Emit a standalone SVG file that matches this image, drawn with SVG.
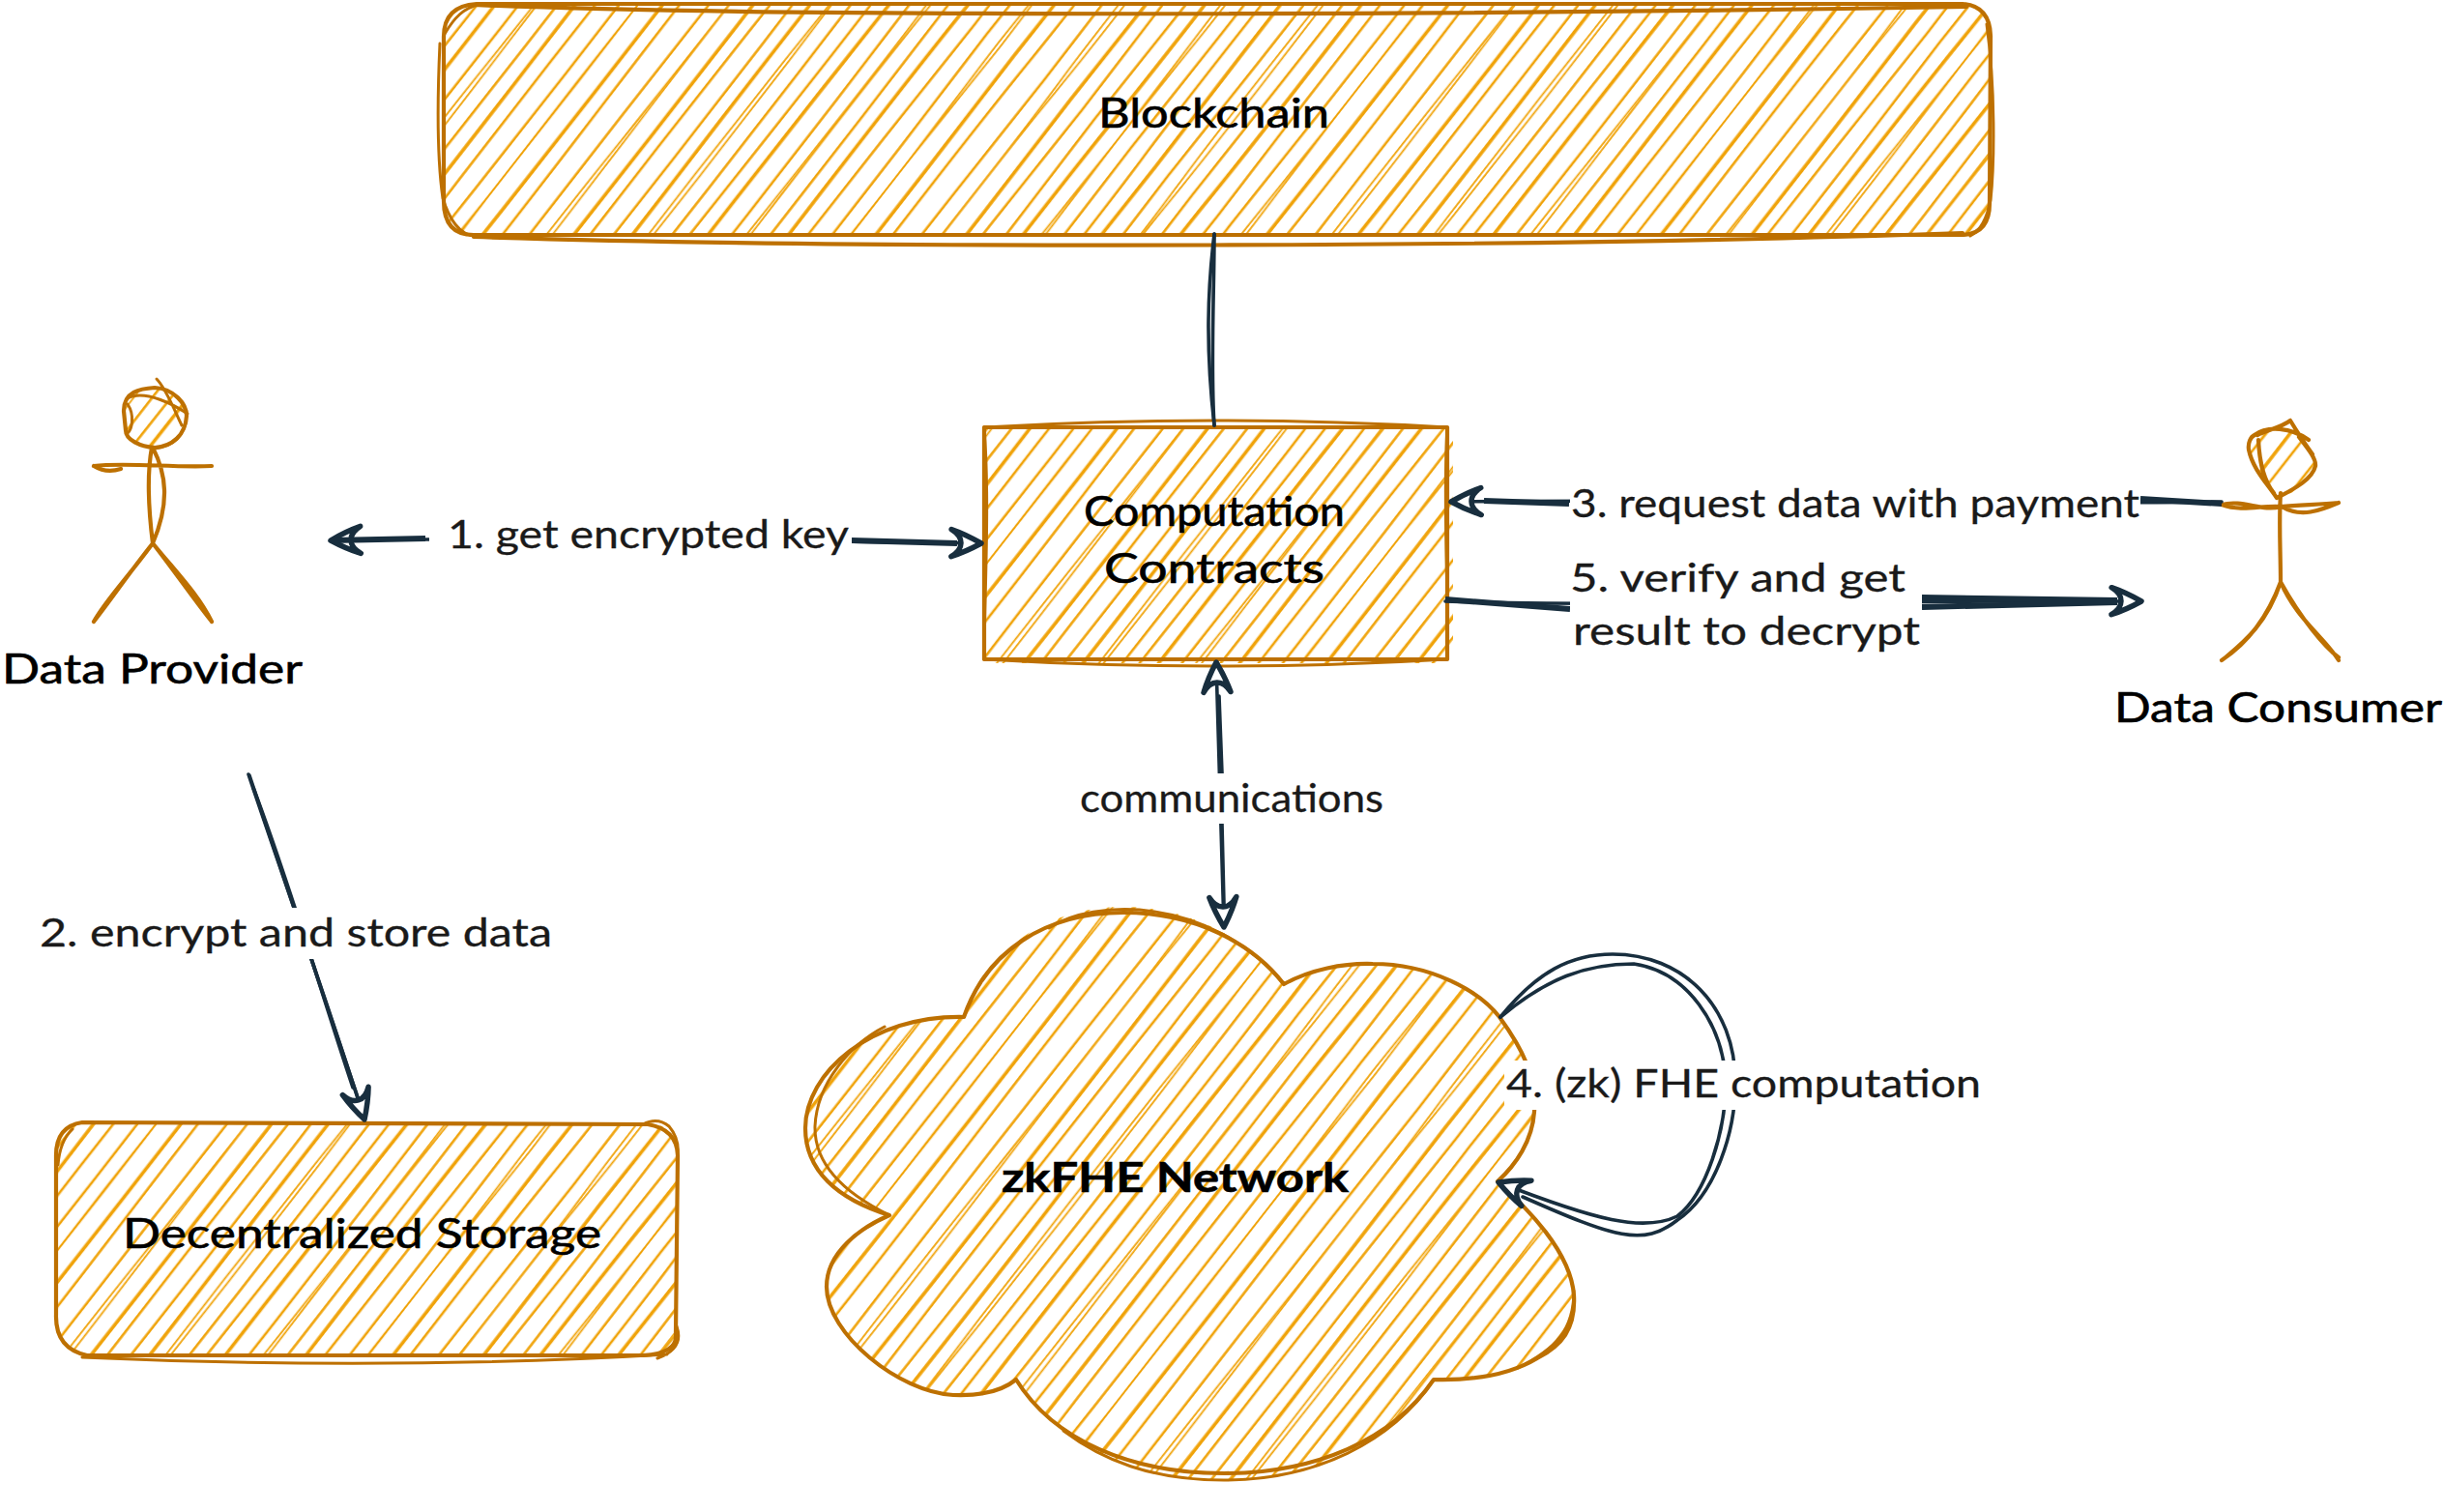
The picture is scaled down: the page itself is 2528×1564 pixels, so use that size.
<svg xmlns="http://www.w3.org/2000/svg" width="2528" height="1564" viewBox="0 0 2528 1564">
  <style>
    text { font-family: "Lato", "Liberation Sans", sans-serif; }
    .node-label { font-size: 42px; fill: #000; stroke: #000; stroke-width: 0.6; }
    .edge-label { font-size: 40px; fill: #1a1a1a; stroke: #1a1a1a; stroke-width: 0.3; }
    .bold { font-weight: 700; }
    .outline { fill: none; stroke: #bd7000; stroke-width: 4.2; stroke-linecap: round; stroke-linejoin: round; }
    .outline.thin { stroke-width: 3; }
    .edge { fill: none; stroke: #182e3e; stroke-width: 3.6; stroke-linecap: round; }
    .edge.heavy { stroke-width: 6; stroke-linecap: butt; }
    .mask { fill: #fff; stroke: none; }
    .h1, .h2, .h3 { fill: none; stroke: #f0a30a; }
    .h1 { stroke-width: 2.6; }
    .h2 { stroke-width: 3.6; }
    .h3 { stroke-width: 1.8; }
    .hatched { fill: url(#hachure); stroke: none; }
  </style>
  <defs>
    <!-- Hand-drawn diagonal shading used by every filled shape -->
    <pattern id="hachure" patternUnits="userSpaceOnUse" width="320" height="600" patternTransform="rotate(38)">
      <path class="h1" d="M8,0 Q12,300 8,600"/>
      <path class="h2" d="M24,0 C21,200 28,400 24,600"/>
      <path class="h3" d="M40,0 Q35,300 40,600"/>
      <path class="h3" d="M40,0 Q45,300 40,600"/>
      <path class="h1" d="M56,0 Q59,300 56,600"/>
      <path class="h1" d="M72,0 C76,150 68,450 72,600"/>
      <path class="h2" d="M88,0 Q85,300 88,600"/>
      <path class="h1" d="M104,0 Q108,300 104,600"/>
      <path class="h3" d="M118,0 C123,200 113,420 118,600"/>
      <path class="h3" d="M122,0 C117,200 125,420 122,600"/>
      <path class="h1" d="M136,0 Q139,300 136,600"/>
      <path class="h2" d="M152,0 C149,180 156,420 152,600"/>
      <path class="h1" d="M170,0 Q166,300 170,600"/>
      <path class="h1" d="M186,0 Q190,300 186,600"/>
      <path class="h3" d="M201,0 Q206,300 201,600"/>
      <path class="h3" d="M205,0 Q200,300 205,600"/>
      <path class="h2" d="M222,0 Q225,300 222,600"/>
      <path class="h1" d="M238,0 C234,220 242,400 238,600"/>
      <path class="h1" d="M262,0 Q259,300 262,600"/>
      <path class="h3" d="M276,0 C281,180 271,430 276,600"/>
      <path class="h3" d="M279,0 C274,180 283,430 279,600"/>
      <path class="h2" d="M296,0 Q299,300 296,600"/>
      <path class="h1" d="M312,0 Q308,300 312,600"/>
    </pattern>
    <!-- Open arrowhead with a swept-back notch -->
    <marker id="head" markerUnits="userSpaceOnUse" viewBox="0 0 42 42" markerWidth="42" markerHeight="42" refX="38" refY="21" orient="auto-start-reverse" overflow="visible">
      <path d="M7,7 Q22,12 38,21 Q22,30 7,35 Q17,29 17,21 Q17,13 7,7 Z" fill="#fff" stroke="#182e3e" stroke-width="5.5" stroke-linejoin="round"/>
    </marker>
  </defs>

  <rect width="2528" height="1564" fill="#fff"/>

  <g id="blockchain">
    <path class="hatched" d="M493,6 L2028,6 Q2059,6 2059,37 L2059,210 Q2059,243 2028,243 L490,243 Q459,243 459,208 L459,38 Q459,6 493,6 Z"/>
    <path class="outline" d="M493,4 L2030,4 Q2058,6 2059,37 L2058,210 Q2058,243 2028,243 L490,243 Q459,243 459,208 L459,38 Q459,6 493,4 Z"/>
    <path class="outline" d="M490,5 C800,18 1500,16 2034,7 M490,245 C900,258 1600,256 2030,241"/>
    <path class="outline thin" d="M2055,25 C2064,90 2063,170 2059,207 C2056,222 2050,238 2038,244 M455,45 C452,110 453,170 458,205 C464,225 475,244 492,244 M460,35 C470,18 480,8 495,5"/>
    <text class="node-label" x="1136" y="132" textLength="239" lengthAdjust="spacingAndGlyphs">Blockchain</text>
  </g>

  <g id="computation-contracts">
    <path class="hatched" d="M1018,442 L1503,442 L1503,686 L1018,686 Z"/>
    <path class="outline" d="M1018,442 L1497,442 L1497,682 L1018,682 Z"/>
    <path class="outline thin" d="M1018,442 Q1258,428 1497,442 M1018,682 Q1258,696 1497,682 M1018,442 C1024,520 1018,620 1018,682 M1497,442 C1492,520 1499,620 1497,682"/>
    <text class="node-label" x="1121" y="544" textLength="270" lengthAdjust="spacingAndGlyphs">Computation</text>
    <text class="node-label" x="1142" y="603" textLength="228" lengthAdjust="spacingAndGlyphs">Contracts</text>
  </g>

  <g id="decentralized-storage">
    <path class="hatched" d="M85,1161 L670,1161 Q701,1165 701,1195 L699,1380 Q701,1402 665,1402 L90,1402 Q57,1395 58,1360 L58,1195 Q58,1165 85,1161 Z"/>
    <path class="outline" d="M85,1161 L670,1163 Q700,1168 701,1195 L699,1380 Q701,1400 665,1402 L90,1402 Q57,1395 58,1360 L58,1195 Q58,1165 85,1161 Z"/>
    <path class="outline thin" d="M85,1404 Q400,1418 690,1401 M665,1163 Q680,1155 692,1165 Q703,1178 701,1195 M60,1205 Q62,1180 75,1168 M700,1372 Q708,1395 680,1405"/>
    <text class="node-label" x="127" y="1291" textLength="495" lengthAdjust="spacingAndGlyphs">Decentralized Storage</text>
  </g>

  <g id="zkfhe-network">
    <path class="hatched" d="M997,1052 C1020,985 1080,938 1162,938 C1235,938 1295,975 1328,1018 C1355,1003 1390,996 1420,997 C1480,997 1530,1025 1551,1052 C1575,1085 1590,1115 1587,1150 C1585,1180 1568,1205 1549,1222 C1580,1250 1625,1295 1628,1340 C1630,1375 1615,1392 1590,1405 C1560,1423 1520,1428 1483,1427 C1440,1490 1360,1531 1266,1531 C1170,1531 1090,1490 1051,1427 C1035,1440 1010,1444 986,1443 C930,1440 855,1380 855,1331 C855,1295 890,1270 920,1257 C865,1240 833,1210 833,1167 C833,1110 900,1050 997,1052 Z"/>
    <path class="outline" d="M997,1052 C1020,985 1080,944 1162,944 C1235,944 1295,975 1328,1018 C1355,1003 1390,996 1420,997 C1480,997 1530,1025 1551,1052 C1575,1085 1590,1115 1587,1150 C1585,1180 1568,1205 1549,1222 C1580,1250 1625,1295 1628,1340 C1630,1375 1615,1392 1590,1405 C1560,1423 1520,1428 1483,1427 C1440,1490 1360,1524 1266,1524 C1170,1524 1090,1490 1051,1427 C1035,1440 1010,1444 986,1443 C930,1440 855,1380 855,1331 C855,1295 890,1270 920,1257 C865,1240 833,1210 833,1167 C833,1110 900,1050 997,1052 Z"/>
    <path class="outline thin" d="M1085,960 C1130,930 1250,925 1328,1018 M920,1257 C875,1235 842,1205 843,1165 C845,1120 880,1080 915,1062 M1483,1427 C1440,1492 1360,1531 1266,1531 C1190,1531 1140,1510 1100,1480 M1628,1335 C1628,1375 1610,1395 1570,1415"/>
    <text class="node-label bold" x="1036" y="1233" textLength="359" lengthAdjust="spacingAndGlyphs">zkFHE Network</text>
  </g>

  <g id="data-provider">
    <path class="hatched" d="M128,425 C128,405 145,402 160,401 C180,402 193,418 193,430 C192,450 178,462 160,463 C145,462 130,455 130,445 Z"/>
    <path class="outline" d="M128,425 C128,405 145,402 160,401 C180,402 193,418 193,430 C192,450 178,462 160,463 C145,462 130,455 130,445 Z"/>
    <path class="outline thin" d="M162,392 C172,402 182,428 188,440 M132,412 C150,402 182,420 194,428 M160,464 C172,462 186,458 192,438 M132,418 C140,430 136,445 132,448"/>
    <path class="outline" d="M157,463 C152,490 154,530 158,562 M158,463 C172,490 176,520 158,562 M97,482 C130,478 180,484 219,482 M97,482 Q110,490 125,485 M158,562 C130,600 110,620 97,643 M158,562 C134,592 115,620 97,643 M158,562 C185,595 205,615 219,643 M158,562 C180,590 202,622 219,643"/>
    <text class="node-label" x="2" y="707" textLength="311" lengthAdjust="spacingAndGlyphs">Data Provider</text>
  </g>

  <g id="data-consumer">
    <path class="hatched" d="M2332,450 C2345,440 2370,442 2378,452 C2388,465 2396,475 2395,490 C2385,500 2370,515 2360,510 C2345,500 2330,480 2327,465 Z"/>
    <path class="outline" d="M2332,450 C2345,440 2370,442 2388,455 M2378,452 C2388,465 2396,475 2395,482 C2392,495 2375,505 2355,515 C2345,500 2330,485 2326,465 C2325,458 2328,452 2332,450 M2369,435 C2360,442 2345,445 2335,450 M2369,435 C2375,445 2385,460 2392,470 M2336,455 C2337,475 2340,495 2352,510"/>
    <path class="outline" d="M2359,510 C2357,540 2359,570 2359,602 M2298,522 C2320,516 2340,530 2359,524 C2380,522 2400,522 2419,520 M2298,522 C2320,530 2340,522 2360,524 C2380,536 2400,528 2419,520 M2359,602 C2345,640 2325,665 2298,683 M2359,602 C2345,645 2320,665 2302,680 M2359,602 C2375,640 2405,660 2419,683 M2359,602 C2380,640 2405,670 2419,680"/>
    <text class="node-label" x="2187" y="747" textLength="339" lengthAdjust="spacingAndGlyphs">Data Consumer</text>
  </g>

  <g id="connectors">
    <!-- Blockchain to contracts: plain double stroke -->
    <path class="edge" d="M1256,242 C1249,300 1247,360 1256,440"/>
    <path class="edge" d="M1256,242 C1256,300 1252,380 1256,440"/>

    <!-- 1. get encrypted key -->
    <path class="edge" marker-start="url(#head)" marker-end="url(#head)" d="M342,559 C500,556 800,559 1015,562"/>
    <path class="edge heavy" d="M881,559 L990,562 M342,559 L440,557"/>
    <rect class="mask" x="444" y="525" width="437" height="70"/>
    <text class="edge-label" x="463" y="567" textLength="415" lengthAdjust="spacingAndGlyphs">1. get encrypted key</text>

    <!-- 2. encrypt and store data -->
    <path class="edge" marker-end="url(#head)" d="M257,801 C290,900 340,1040 377,1158"/>
    <path class="edge" d="M258,802 C300,925 335,1030 370,1135"/>
    <path class="edge" d="M262,815 C300,915 330,1020 365,1125"/>
    <rect class="mask" x="37" y="939" width="538" height="53"/>
    <text class="edge-label" x="41" y="979" textLength="530" lengthAdjust="spacingAndGlyphs">2. encrypt and store data</text>

    <!-- 3. request data with payment -->
    <path class="edge" marker-end="url(#head)" d="M2298,519 C2100,522 1700,516 1501,519"/>
    <path class="edge heavy" d="M2298,521 L2214,516 M1623,521 L1535,518"/>
    <rect class="mask" x="1624" y="495" width="590" height="60"/>
    <text class="edge-label" x="1625" y="535" textLength="588" lengthAdjust="spacingAndGlyphs">3. request data with payment</text>

    <!-- 5. verify and get result to decrypt -->
    <path class="edge" marker-end="url(#head)" d="M1495,622 C1700,628 2000,620 2215,622"/>
    <path class="edge heavy" d="M1495,620 L1624,630 M1988,618 L2190,621 M1988,628 L2190,623"/>
    <rect class="mask" x="1624" y="570" width="364" height="112"/>
    <text class="edge-label" x="1624" y="612" textLength="347" lengthAdjust="spacingAndGlyphs">5. verify and get</text>
    <text class="edge-label" x="1627" y="667" textLength="359" lengthAdjust="spacingAndGlyphs">result to decrypt</text>

    <!-- communications -->
    <path class="edge" marker-start="url(#head)" marker-end="url(#head)" d="M1258,685 C1260,750 1262,850 1266,959"/>
    <path class="edge" d="M1261,720 L1264,800 M1264,852 L1266,935"/>
    <rect class="mask" x="1112" y="800" width="322" height="52"/>
    <text class="edge-label" x="1117" y="840" textLength="314" lengthAdjust="spacingAndGlyphs">communications</text>

    <!-- 4. (zk) FHE computation: loop on the network -->
    <path class="edge" d="M1552,1052 C1590,1005 1625,987 1668,987 C1740,987 1795,1040 1795,1120 C1795,1170 1775,1235 1735,1262 C1700,1290 1670,1280 1575,1238"/>
    <path class="edge" marker-end="url(#head)" d="M1552,1052 C1600,1012 1640,997 1690,997 C1745,1005 1783,1060 1785,1120 C1785,1170 1765,1235 1735,1258 C1700,1275 1650,1262 1550,1223"/>
    <rect class="mask" x="1556" y="1097" width="496" height="51"/>
    <text class="edge-label" x="1558" y="1135" textLength="491" lengthAdjust="spacingAndGlyphs">4. (zk) FHE computation</text>
  </g>
</svg>
